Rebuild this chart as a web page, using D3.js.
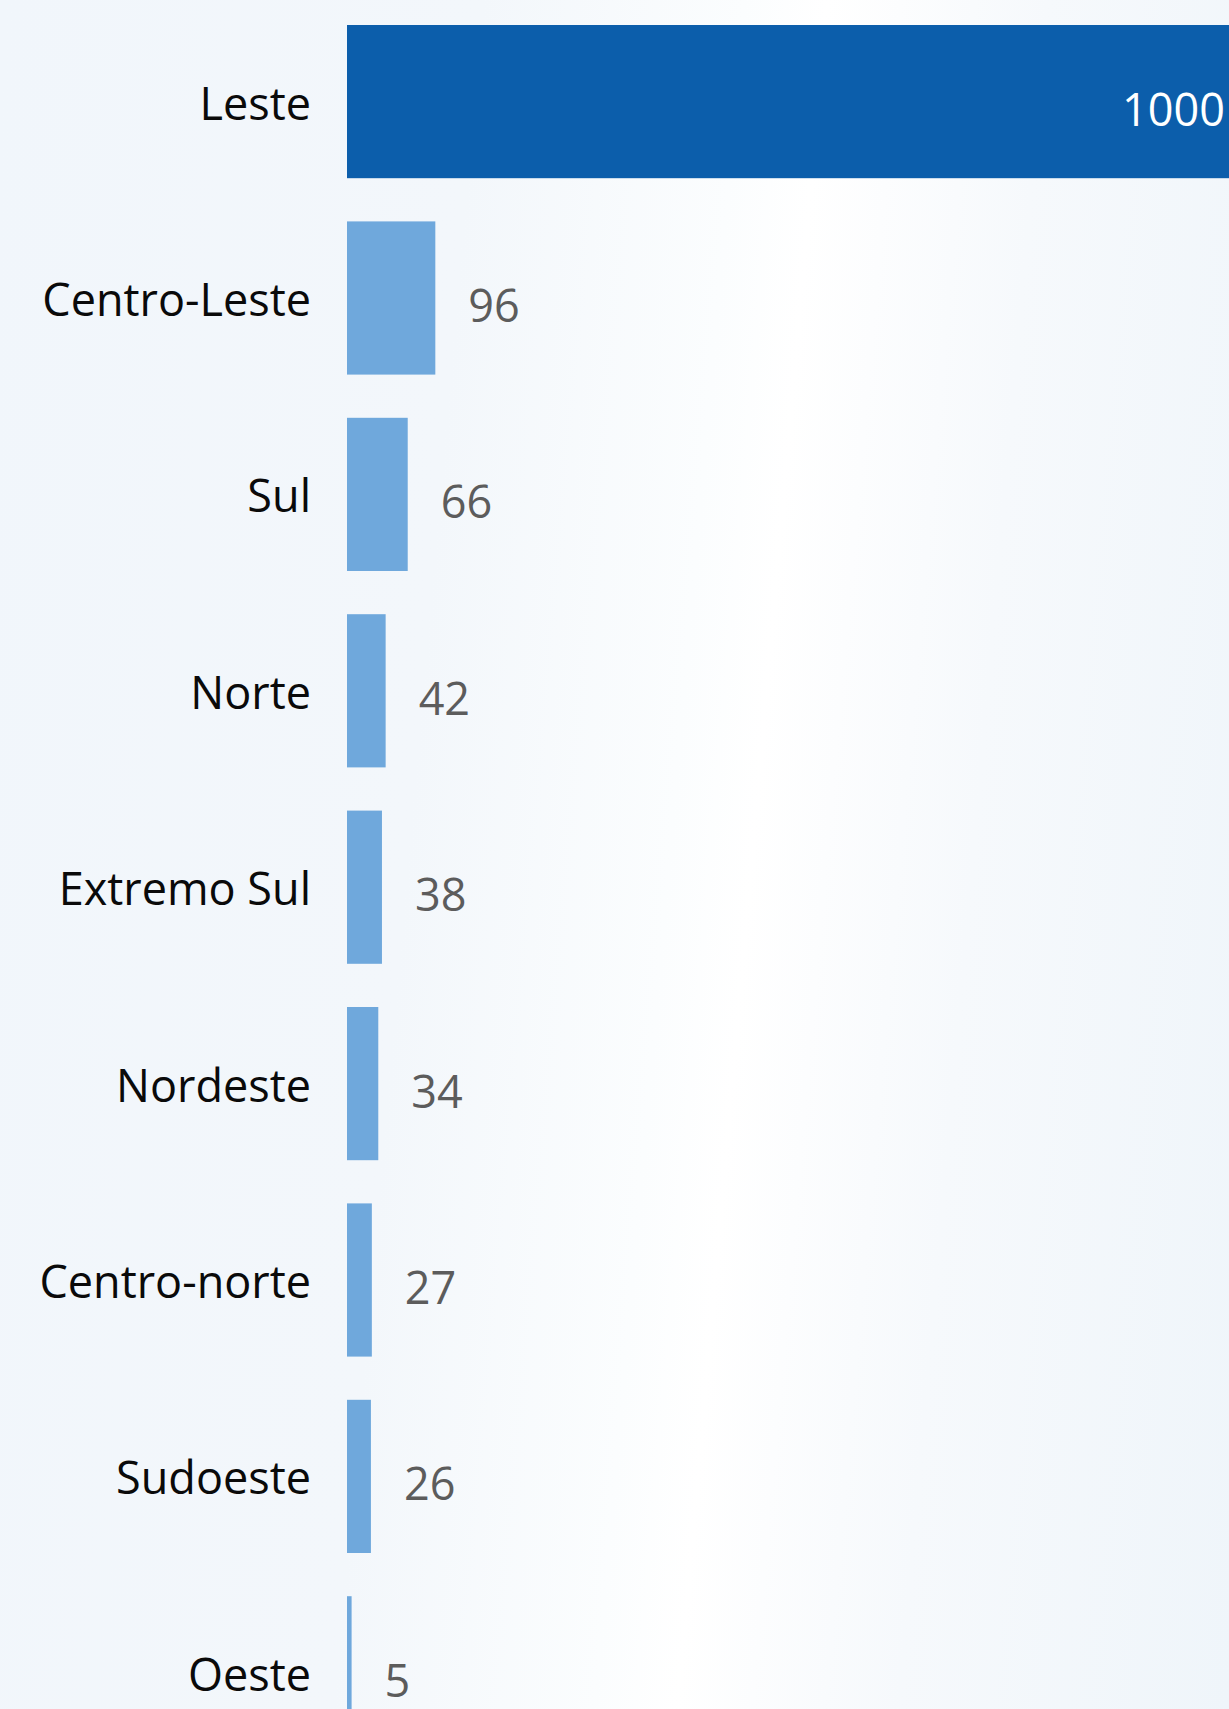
<!DOCTYPE html>
<html>
<head>
<meta charset="utf-8">
<script src="https://cdn.jsdelivr.net/npm/d3@7"></script>
<style>
  html, body { margin: 0; padding: 0; overflow: hidden; }
  body {
    width: 1229px; height: 1709px;
    background: linear-gradient(95deg, #f1f6fb 0%, #f3f7fb 35%, #fbfdfe 54%, #ffffff 60%, #f6f9fc 76%, #eff5fa 100%);
    font-family: "Segoe UI", "Open Sans", sans-serif;
  }
  .cat { fill: #0a0a0a; font-size: 45px; }
  .val { fill: #5c5c5c; font-size: 45px; }
</style>
</head>
<body>
<div class="chart"></div>
<script>
const regions = ["Leste", "Centro-Leste", "Sul", "Norte", "Extremo Sul", "Nordeste", "Centro-norte", "Sudoeste", "Oeste"];
const counts = [1000, 96, 66, 42, 38, 34, 27, 26, 5];

const data = regions.map((r, i) => ({ region: r, count: counts[i] }));

var margin = { top: 25, left: 347 },
    width = 1229,
    height = 1709,
    step = 196.4,
    pad = 0.22;

var svg = d3.select('div.chart').append('svg')
    .attr('width', width)
    .attr('height', height)
    .style('display', 'block')
  .append('g')
    .attr('transform', `translate(${margin.left},${margin.top})`);

var x = d3.scaleLinear()
    .domain([0, 1000])
    .range([0, 920]);

var y = d3.scaleBand()
    .domain(regions)
    .range([0, regions.length * step - pad * step])
    .paddingInner(pad)
    .paddingOuter(0);

var innerRight = width - margin.left;

svg.selectAll('rect.bar')
    .data(data)
    .enter()
    .append('rect')
      .attr('class', 'bar')
      .attr('x', 0)
      .attr('y', d => y(d.region))
      .attr('width', d => Math.max(x(d.count), 3))
      .attr('height', y.bandwidth())
      .attr('fill', (d, i) => i === 0 ? '#0c5eab' : '#6fa8dc');

// category labels
svg.selectAll('text.cat')
    .data(data)
    .enter()
    .append('text')
      .attr('class', 'cat')
      .attr('text-anchor', 'end')
      .attr('x', -36)
      .attr('y', d => y(d.region) + y.bandwidth() / 2 + 18)
      .text(d => d.region);

// value labels: inside the bar if it runs off the page, else after it
svg.selectAll('text.val')
    .data(data)
    .enter()
    .append('text')
      .attr('class', 'val')
      .attr('text-anchor', d => x(d.count) > innerRight - 100 ? 'end' : 'start')
      .attr('x', d => x(d.count) > innerRight - 100 ? Math.min(x(d.count), innerRight) - 4 : x(d.count) + 33)
      .attr('y', d => y(d.region) + y.bandwidth() / 2 + 24)
      .style('fill', d => x(d.count) > innerRight - 100 ? '#ffffff' : null)
      .text(d => d.count);
</script>
</body>
</html>
